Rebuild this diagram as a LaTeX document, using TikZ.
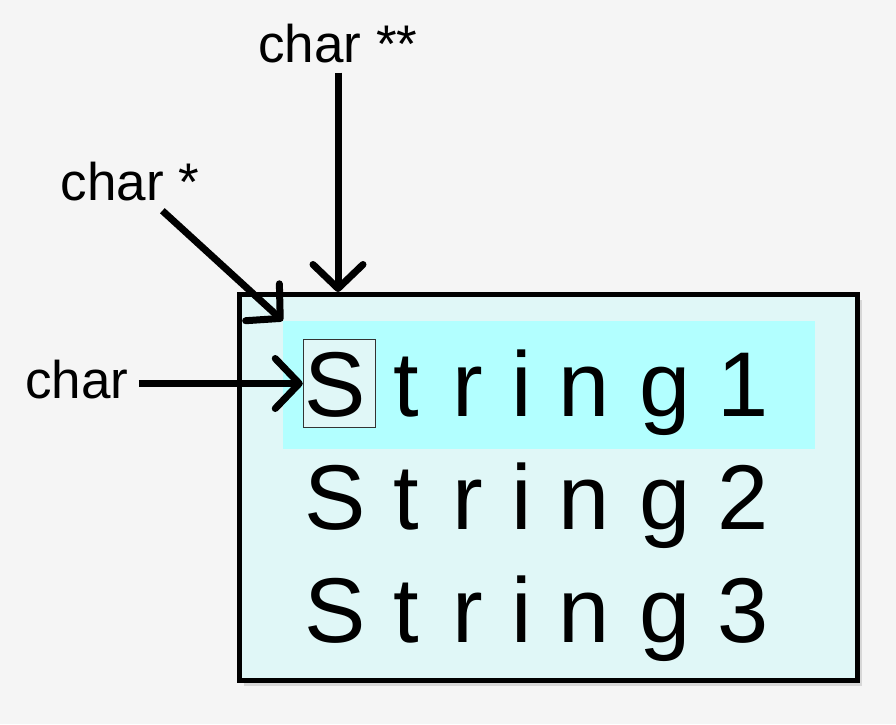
\documentclass[tikz,border=0pt]{standalone}
\usepackage{fontspec}
\setmainfont{Liberation Sans}
\usetikzlibrary{arrows.meta,shadows}
\definecolor{bgcol}{HTML}{F5F5F5}
\definecolor{boxcol}{HTML}{E0F7F7}
\definecolor{hlcol}{HTML}{B2FFFF}
\begin{document}
\begin{tikzpicture}[x=1pt,y=-1pt,
  lbl/.style={font=\fontsize{53}{53}\selectfont, inner sep=10pt, anchor=base},
  glyph/.style={font=\fontsize{92}{92}\selectfont, anchor=base, inner sep=0pt},
  ptr/.style={line width=7pt, -{Straight Barb[length=24pt,width=50pt,round]}}]
\fill[bgcol] (0,0) rectangle (896,724);
\useasboundingbox (0,0) rectangle (896,724);
\node[draw, line width=5pt, fill=boxcol, minimum width=618pt, minimum height=386pt,
  drop shadow={shadow xshift=4pt, shadow yshift=-5pt, opacity=0.25}] (frame) at (548.5,487.5) {};
\node[fill=hlcol, inner sep=0pt, minimum width=532pt, minimum height=128pt] (hl) at (549,385) {};
\node[draw=black!80, line width=1.5pt, fill=boxcol, minimum width=72pt, minimum height=88pt] (cell) at (339.5,383.5) {};
\foreach \r/\y in {1/416,2/529,3/642} {
  \foreach \c/\x [count=\i] in {S/335,t/406,r/468,i/522,n/584,g/665}
    \node[glyph] (s\r-\i) at (\x,\y) {\c};
  \node[glyph] (s\r-7) at (743,\y) {\r};
}
\node[lbl] (lblch) at (77,398) {char};
\node[lbl] (lblptr) at (130,200) {char *};
\node[lbl] (lblpp) at (338,62) {char **};
\draw[ptr] (lblch.east |- cell.west) -- (cell.west);
\draw[ptr] (lblptr) -- (hl.north west);
\draw[ptr] (lblpp) -- (lblpp |- frame.north);
\end{tikzpicture}
\end{document}
